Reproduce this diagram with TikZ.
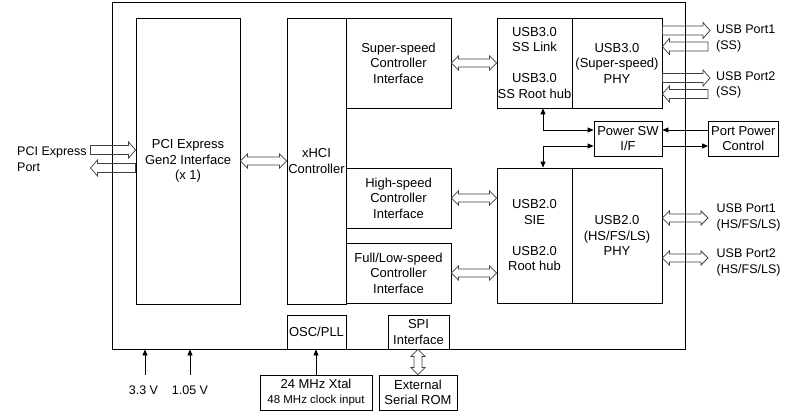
\documentclass[tikz,border=0pt]{standalone}
\usepackage{fontspec}
\setmainfont{Liberation Sans}
\usetikzlibrary{calc,arrows.meta}
\newcommand\fs{\fontsize{13}{15.5}\selectfont}
\newcommand\fl{\fontsize{12.5}{15.5}\selectfont}
\tikzset{
  box/.style={draw, line width=0.8pt, inner sep=0pt, align=center, font=\fs},
  lbl/.style={inner sep=0pt, align=left, font=\fl},
  hollow/.style={draw=black!75, line width=0.75pt, line join=miter},
  pa/.style={line width=0.8pt, -{Triangle[length=6pt,width=5pt]}},
  pab/.style={line width=0.8pt, {Triangle[length=6pt,width=5pt]}-{Triangle[length=6pt,width=5pt]}},
}
% single hollow arrow, tip at #2
\newcommand\hsingle[2]{%
  \draw[hollow] let \p1=(#1),\p2=(#2),\n1={atan2(\y2-\y1,\x2-\x1)},\n2={veclen(\x2-\x1,\y2-\y1)} in
    ($(\p1)+(\n1+90:4.5pt)$) -- ($(\p1)+(\n1:\n2-7pt)+(\n1+90:4.5pt)$) -- ($(\p2)+(\n1+180:7pt)+(\n1+90:8pt)$) -- (\p2)
    -- ($(\p2)+(\n1+180:7pt)+(\n1-90:8pt)$) -- ($(\p2)+(\n1+180:7pt)+(\n1-90:4.5pt)$) -- ($(\p1)+(\n1-90:4.5pt)$) -- cycle;}
% double hollow arrow
\newcommand\hdouble[2]{%
  \draw[hollow] let \p1=(#1),\p2=(#2),\n1={atan2(\y2-\y1,\x2-\x1)} in
    (\p1) -- ($(\p1)+(\n1:7pt)+(\n1+90:7pt)$) -- ($(\p1)+(\n1:7pt)+(\n1+90:4pt)$)
    -- ($(\p2)+(\n1+180:7pt)+(\n1+90:4pt)$) -- ($(\p2)+(\n1+180:7pt)+(\n1+90:7pt)$) -- (\p2)
    -- ($(\p2)+(\n1+180:7pt)+(\n1-90:7pt)$) -- ($(\p2)+(\n1+180:7pt)+(\n1-90:4pt)$)
    -- ($(\p1)+(\n1:7pt)+(\n1-90:4pt)$) -- ($(\p1)+(\n1:7pt)+(\n1-90:7pt)$) -- cycle;}
\begin{document}
\begin{tikzpicture}[x=1pt,y=-1pt]
\useasboundingbox (0,0) rectangle (796,420);
% chip outline
\node[box, minimum width=573.5pt, minimum height=347pt] (chip) at (398.75,175.5) {};
% main blocks
\node[box, minimum width=104pt, minimum height=286pt] (pci) at (188,161) {PCI Express\\Gen2 Interface\\(x 1)};
\node[box, minimum width=59pt, minimum height=286pt] (xhci) at (316.5,161) {xHCI\\Controller};
\node[box, minimum width=105pt, minimum height=90pt] (ss) at (398.5,63) {Super-speed\\Controller\\Interface};
\node[box, minimum width=105pt, minimum height=60pt] (hs) at (398.5,198) {High-speed\\Controller\\Interface};
\node[box, minimum width=105pt, minimum height=60pt] (fl) at (398.5,273) {Full/Low-speed\\Controller\\Interface};
\node[box, minimum width=75pt, minimum height=90pt] (u3l) at (534.5,63) {USB3.0\\SS Link\\[15.5pt]USB3.0\\SS Root hub};
\node[box, minimum width=90pt, minimum height=90pt] (u3r) at (617,63) {USB3.0\\(Super-speed)\\PHY};
\node[box, minimum width=75pt, minimum height=135pt] (u2l) at (534.5,235.5) {USB2.0\\SIE\\[15.5pt]USB2.0\\Root hub};
\node[box, minimum width=90pt, minimum height=135pt] (u2r) at (617,235.5) {USB2.0\\(HS/FS/LS)\\PHY};
\node[box, minimum width=68pt, minimum height=35pt] (psw) at (628,138.5) {Power SW\\I/F};
\node[box, minimum width=69.5pt, minimum height=35pt] (ppc) at (743.25,138.5) {Port Power\\Control};
\node[box, minimum width=59pt, minimum height=34pt] (osc) at (316.5,332) {OSC/PLL};
\node[box, minimum width=61pt, minimum height=34pt] (spi) at (418.5,332) {SPI\\Interface};
\node[box, minimum width=112pt, minimum height=35pt] (xtal) at (316,392.5) {24 MHz Xtal\\{\fontsize{11.5}{14}\selectfont 48 MHz clock input}};
\node[box, minimum width=78pt, minimum height=35pt] (rom) at (418,392.5) {External\\Serial ROM};
% labels
\node[lbl, anchor=west] (lpci) at (17,159) {PCI Express\\Port};
\node[lbl, anchor=west] (lu31) at (716,38.5) {USB Port1\\(SS)};
\node[lbl, anchor=west] (lu32) at (716,85) {USB Port2\\(SS)};
\node[lbl, anchor=west] (lu21) at (716.5,217.5) {USB Port1\\(HS/FS/LS)};
\node[lbl, anchor=west] (lu22) at (716.5,262.5) {USB Port2\\(HS/FS/LS)};
\node[lbl] (l33) at (143.5,390) {3.3 V};
\node[lbl] (l105) at (190,390) {1.05 V};
% coordinates
\coordinate (pin) at (90.5,150);
\coordinate (pout) at (90.5,168);
\coordinate (a1o) at (710,30.5);
\coordinate (a1i) at (708,46.5);
\coordinate (a2o) at (710,78);
\coordinate (a2i) at (708,94);
\coordinate (b1) at (708,218);
\coordinate (b2) at (708,258);
\coordinate (j1) at (543,130);
\coordinate (j2) at (543,146);
\coordinate (v33) at (145,375);
\coordinate (v105) at (190,375);
% hollow arrows
\hsingle{pin}{pin -| pci.west}
\hsingle{pout -| pci.west}{pout}
\hdouble{pci.east}{xhci.west}
\hdouble{ss.east}{u3l.west}
\hdouble{hs.east}{u2l.west |- hs.east}
\hdouble{fl.east}{u2l.west |- fl.east}
\hsingle{u3r.east |- a1o}{a1o}
\hsingle{a1i}{u3r.east |- a1i}
\hsingle{u3r.east |- a2o}{a2o}
\hsingle{a2i}{u3r.east |- a2i}
\hdouble{u2r.east |- b1}{b1}
\hdouble{u2r.east |- b2}{b2}
\hdouble{spi.south -| rom.north}{rom.north}
% power switch connectors
\draw[pab] (u3l.south -| j1) |- (psw.west |- j1);
\draw[pab] (psw.west |- j2) -| (u2l.north -| j2);
\draw[pa] (ppc.west |- j1) -- (psw.east |- j1);
\draw[pa] (psw.east |- j2) -- (ppc.west |- j2);
% supply and clock arrows
\draw[pa] (v33) -- (v33 |- chip.south);
\draw[pa] (v105) -- (v105 |- chip.south);
\draw[pa] (xtal.north) -- (osc.south -| xtal.north);
\end{tikzpicture}
\end{document}
